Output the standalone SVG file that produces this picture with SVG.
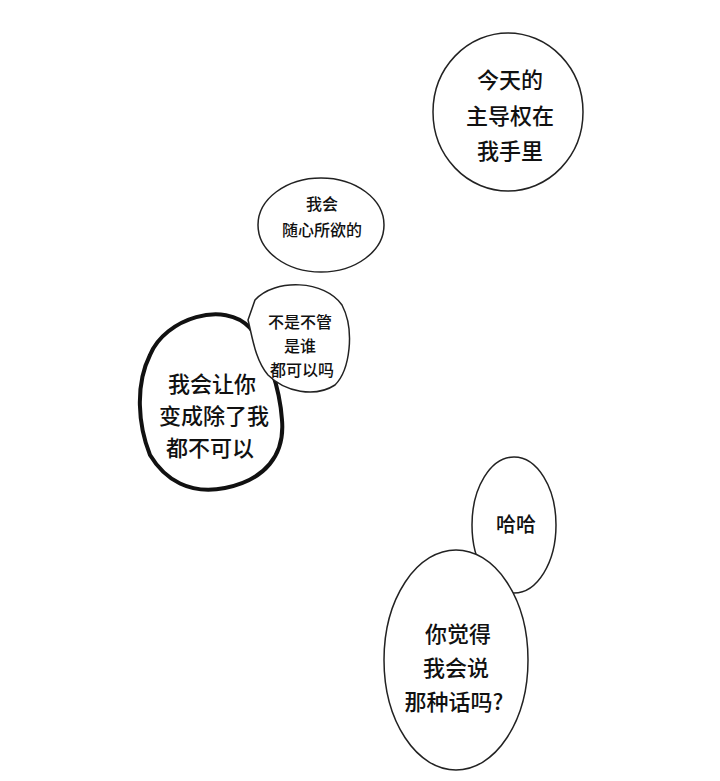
<svg xmlns="http://www.w3.org/2000/svg" width="720" height="781" viewBox="0 0 720 781">
<style>
.b{fill:#fff;stroke:#222;stroke-width:1.5}
.k{fill:#fff;stroke:#111;stroke-width:4}
text{font-family:"Noto Sans CJK SC",sans-serif;font-weight:500;fill:#111;text-anchor:middle}
</style>
<rect width="720" height="781" fill="#fff"/>
<g id="bubble1"><ellipse class="b" cx="508" cy="112" rx="75" ry="79"/>
<text font-size="22"><tspan x="510" y="88">今天的</tspan><tspan x="510" y="124">主导权在</tspan><tspan x="510" y="159">我手里</tspan></text></g>
<g id="bubble2"><ellipse class="b" cx="321" cy="225" rx="63" ry="47"/>
<text font-size="16"><tspan x="322" y="210">我会</tspan><tspan x="322" y="236">随心所欲的</tspan></text></g>
<g id="bubble3"><path class="k" d="M250,328 C225,300 165,318 150,355 C135,385 138,425 150,455 C165,480 190,495 225,488 C265,480 285,455 282,420 C280,390 268,350 250,328 Z"/>
<text font-size="22"><tspan x="212" y="392">我会让你</tspan><tspan x="214" y="424">变成除了我</tspan><tspan x="210" y="456">都不可以</tspan></text></g>
<g id="bubble4"><path class="b" d="M255,300 C275,278 325,280 342,305 C355,330 350,370 335,385 C315,398 285,392 268,375 C255,360 252,335 248,320 Z"/>
<text font-size="16"><tspan x="300" y="328">不是不管</tspan><tspan x="300" y="352">是谁</tspan><tspan x="302" y="376">都可以吗</tspan></text></g>
<g id="bubble5"><ellipse class="b" cx="514" cy="525" rx="42" ry="68"/>
<text font-size="20" x="516" y="532">哈哈</text></g>
<g id="bubble6"><ellipse class="b" cx="456" cy="660" rx="72" ry="110"/>
<text font-size="22"><tspan x="458" y="642">你觉得</tspan><tspan x="456" y="676">我会说</tspan><tspan x="454" y="710">那种话吗?</tspan></text></g>
</svg>
